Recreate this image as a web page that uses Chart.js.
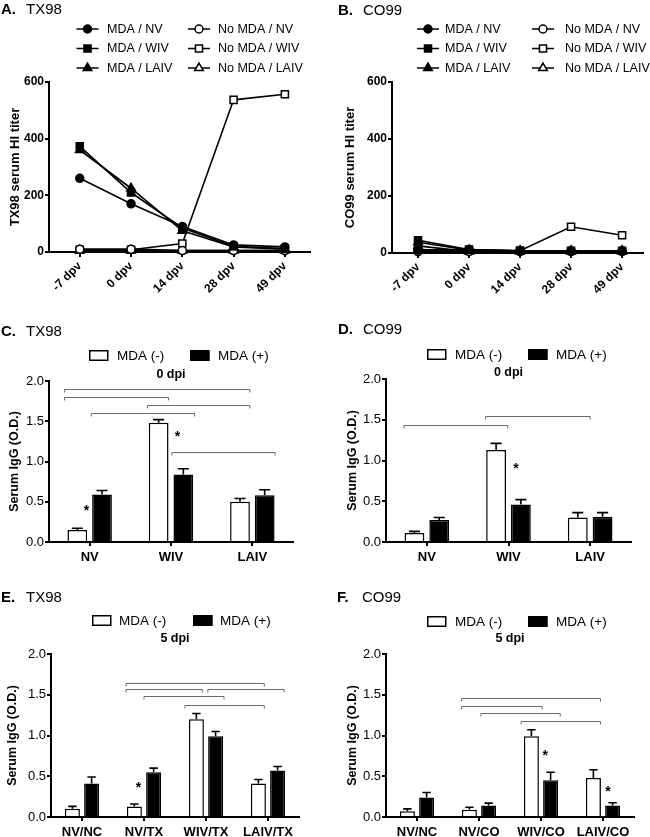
<!DOCTYPE html>
<html>
<head>
<meta charset="utf-8">
<script src="https://cdn.jsdelivr.net/npm/chart.js@4.4.1/dist/chart.umd.min.js"></script>
<style>
  body { margin: 0; background: #fff; }
  #fig { position: relative; width: 650px; height: 837px; overflow: hidden;
         font-family: "Liberation Sans", Arial, Helvetica, sans-serif; color: #000; }
  .panel { position: absolute; }
  .ttl { position: absolute; font-size: 15px; line-height: 15px; white-space: nowrap; }
  .ttl b { display: inline-block; width: 25px; }
</style>
</head>
<body>
<div id="fig">
  <canvas id="hiTx" class="panel" style="left:0;top:0" width="325" height="300"></canvas>
  <canvas id="hiCo" class="panel" style="left:325px;top:0" width="325" height="300"></canvas>
  <canvas id="igTx0" class="panel" style="left:0;top:300px" width="325" height="265"></canvas>
  <canvas id="igCo0" class="panel" style="left:325px;top:300px" width="325" height="265"></canvas>
  <canvas id="igTx5" class="panel" style="left:0;top:565px" width="325" height="272"></canvas>
  <canvas id="igCo5" class="panel" style="left:325px;top:565px" width="325" height="272"></canvas>
  <div class="ttl" style="left:1px;top:1px"><b>A.</b>TX98</div>
  <div class="ttl" style="left:338px;top:2px"><b>B.</b>CO99</div>
  <div class="ttl" style="left:1px;top:323px"><b>C.</b>TX98</div>
  <div class="ttl" style="left:338px;top:321px"><b>D.</b>CO99</div>
  <div class="ttl" style="left:1px;top:589px"><b>E.</b>TX98</div>
  <div class="ttl" style="left:337px;top:589px"><b>F.</b>CO99</div>
</div>
<script>
Chart.defaults.font.family = '"Liberation Sans", Arial, Helvetica, sans-serif';
Chart.defaults.color = '#000';
Chart.defaults.animation = false;

// ---- HI titers (panels A, B)
const dpvLabels = ['-7 dpv', '0 dpv', '14 dpv', '28 dpv', '49 dpv'];
const hiTicks = [0, 200, 400, 600];
const hiGroups = ['MDA / NV', 'MDA / WIV', 'MDA / LAIV', 'No MDA / NV', 'No MDA / WIV', 'No MDA / LAIV'];

const txMdaNV = [260, 170, 90, 25, 18];
const txMdaWIV = [373, 210, 85, 20, 12];
const txMdaLAIV = [360, 225, 75, 18, 10];
const txNoNV = [10, 10, 5, 5, 5];
const txNoWIV = [8, 8, 30, 537, 557];
const txNoLAIV = [5, 5, 5, 5, 5];

const coMdaNV = [10, 12, 8, 8, 8];
const coMdaWIV = [45, 12, 8, 8, 8];
const coMdaLAIV = [38, 10, 8, 8, 8];
const coNoNV = [5, 5, 5, 5, 5];
const coNoWIV = [12, 8, 8, 92, 62];
const coNoLAIV = [25, 5, 5, 5, 5];

// ---- serum IgG O.D. (panels C-F)
const odTicks = [0, 0.5, 1.0, 1.5, 2.0];
const vaxGroups = ['NV', 'WIV', 'LAIV'];
const txChallenge = ['NV/NC', 'NV/TX', 'WIV/TX', 'LAIV/TX'];
const coChallenge = ['NV/NC', 'NV/CO', 'WIV/CO', 'LAIV/CO'];

const txOd0Neg = [0.15, 1.48, 0.50];
const txOd0NegErr = [0.02, 0.04, 0.04];
const txOd0Pos = [0.59, 0.84, 0.58];
const txOd0PosErr = [0.05, 0.07, 0.07];

const coOd0Neg = [0.11, 1.13, 0.30];
const coOd0NegErr = [0.02, 0.08, 0.06];
const coOd0Pos = [0.27, 0.46, 0.31];
const coOd0PosErr = [0.03, 0.06, 0.05];

const txOd5Neg = [0.10, 0.13, 1.20, 0.41];
const txOd5NegErr = [0.03, 0.03, 0.07, 0.05];
const txOd5Pos = [0.41, 0.55, 0.99, 0.57];
const txOd5PosErr = [0.08, 0.05, 0.06, 0.05];

const coOd5Neg = [0.07, 0.09, 0.99, 0.48];
const coOd5NegErr = [0.03, 0.03, 0.08, 0.10];
const coOd5Pos = [0.24, 0.14, 0.45, 0.14];
const coOd5PosErr = [0.06, 0.03, 0.10, 0.035];

// significance brackets: [from group, to group, O.D. level]
const txBrackets0 = [[-0.31, 1.97, 1.90], [-0.31, 0.97, 1.80], [0.71, 1.97, 1.70], [0.02, 1.29, 1.60], [1.01, 2.28, 1.12]];
const coBrackets0 = [[-0.28, 0.99, 1.43], [0.72, 2.0, 1.55]];
const txBrackets5 = [[0.71, 2.94, 1.65], [0.71, 1.94, 1.57], [2.03, 3.26, 1.57], [1.0, 2.29, 1.48], [1.66, 2.94, 1.38]];
const coBrackets5 = [[0.72, 2.96, 1.46], [0.72, 2.02, 1.36], [1.03, 2.31, 1.27], [1.68, 2.96, 1.18]];
// asterisks: [group, O.D.]
const txStars0 = [[-0.04, 0.43], [1.08, 1.35]];
const coStars0 = [[1.09, 0.95]];
const txStars5 = [[0.91, 0.41]];
const coStars5 = [[2.07, 0.80], [3.08, 0.35]];

// draws error bars, brackets, stars, legends and the dpi label
const extrasPlugin = {
  id: 'extras',
  afterDatasetsDraw(chart, args, opts) {
    const ctx = chart.ctx;
    const xs = chart.scales.x, ys = chart.scales.y;
    ctx.save();
    chart.data.datasets.forEach((ds, di) => {
      if (!ds.errors) return;
      chart.getDatasetMeta(di).data.forEach((bar, i) => {
        const top = ys.getPixelForValue(ds.data[i] + ds.errors[i]);
        const cap = bar.width * 0.28;
        ctx.strokeStyle = '#000';
        ctx.lineWidth = 1.6;
        ctx.beginPath();
        ctx.moveTo(bar.x, bar.y);
        ctx.lineTo(bar.x, top);
        ctx.moveTo(bar.x - cap, top);
        ctx.lineTo(bar.x + cap, top);
        ctx.stroke();
      });
    });
    const x0 = xs.getPixelForValue(0);
    const step = xs.getPixelForValue(1) - x0;
    (opts.brackets || []).forEach(([a, b, lv]) => {
      const xa = x0 + a * step, xb = x0 + b * step, yy = Math.round(ys.getPixelForValue(lv)) + 0.5;
      ctx.strokeStyle = '#6a6a6a';
      ctx.lineWidth = 1;
      ctx.beginPath();
      ctx.moveTo(xa, yy + 3);
      ctx.lineTo(xa, yy);
      ctx.lineTo(xb, yy);
      ctx.lineTo(xb, yy + 3);
      ctx.stroke();
    });
    ctx.fillStyle = '#000';
    ctx.font = 'bold 14px "Liberation Sans", Arial, sans-serif';
    ctx.textAlign = 'center';
    ctx.textBaseline = 'alphabetic';
    (opts.stars || []).forEach(([g, lv]) => {
      ctx.fillText('*', x0 + g * step, ys.getPixelForValue(lv) + 8);
    });
    ctx.restore();
  },
  afterDraw(chart, args, opts) {
    const ctx = chart.ctx;
    const lg = opts.legend;
    if (!lg) return;
    ctx.save();
    ctx.textAlign = 'left';
    ctx.textBaseline = 'middle';
    if (lg.type === 'line') {
      ctx.font = '12.5px "Liberation Sans", Arial, sans-serif';
      chart.data.datasets.forEach((ds, di) => {
        const col = di < 3 ? 0 : 1, row = di % 3;
        const mx = lg.markX[col], my = lg.rows[row];
        ctx.strokeStyle = '#000';
        ctx.lineWidth = 1.5;
        ctx.beginPath();
        ctx.moveTo(mx - 11, my);
        ctx.lineTo(mx + 11, my);
        ctx.stroke();
        ctx.fillStyle = ds.pointBackgroundColor;
        Chart.helpers.drawPoint(ctx, {
          pointStyle: ds.pointStyle, radius: ds.pointRadius, rotation: 0, borderWidth: ds.pointBorderWidth
        }, mx, my);
        ctx.fillStyle = '#000';
        ctx.fillText(ds.label, lg.textX[col], my + 0.5);
      });
    } else {
      ctx.font = '13.5px "Liberation Sans", Arial, sans-serif';
      chart.data.datasets.forEach((ds, di) => {
        const bx = lg.boxX[di];
        ctx.fillStyle = ds.backgroundColor;
        ctx.fillRect(bx, lg.boxY, 19.5, 11);
        ctx.strokeStyle = '#000';
        ctx.lineWidth = 1.5;
        ctx.strokeRect(bx + 0.75, lg.boxY + 0.75, 18, 9.5);
        ctx.fillStyle = '#000';
        ctx.fillText(ds.label, bx + lg.textOffset, lg.boxY + 6);
      });
      ctx.font = 'bold 12.5px "Liberation Sans", Arial, sans-serif';
      ctx.textAlign = 'center';
      const ca = chart.chartArea;
      ctx.fillText(opts.dpi, (ca.left + ca.right) / 2, opts.dpiY);
    }
    ctx.restore();
  }
};

function fixedAxes(panel) {
  // panel: canvas box and wanted plot area, both relative to the canvas
  return {
    padding: { left: 0, top: panel.top, right: panel.width - panel.right, bottom: 0 },
    yWidth: panel.left,
    xHeight: panel.height - panel.bottom
  };
}

function axisGrid(len) {
  return { display: true, drawOnChartArea: false, drawTicks: true, tickLength: len, color: '#000', lineWidth: 2, offset: false };
}

function hiChart(id, area, xMin, xMax, series, yTitle, titlePad, legend) {
  const fx = fixedAxes(area);
  const styles = ['circle', 'rect', 'triangle'];
  const sizes = [4, 5, 5];
  new Chart(document.getElementById(id), {
    type: 'line',
    data: {
      datasets: series.map((vals, i) => ({
        label: hiGroups[i],
        data: vals.map((v, k) => ({ x: k, y: v })),
        borderColor: '#000',
        borderWidth: 1.6,
        pointStyle: styles[i % 3],
        pointRadius: sizes[i % 3],
        pointBorderWidth: 1.5,
        pointBorderColor: '#000',
        pointBackgroundColor: i < 3 ? '#000' : '#fff',
        clip: false
      }))
    },
    options: {
      responsive: false,
      devicePixelRatio: 1,
      layout: { padding: fx.padding, autoPadding: false },
      plugins: { legend: { display: false }, tooltip: { enabled: false }, extras: { legend } },
      scales: {
        x: {
          type: 'linear', min: xMin, max: xMax,
          afterBuildTicks: (s) => { s.ticks = dpvLabels.map((_, k) => ({ value: k })); },
          afterFit: (s) => { s.height = fx.xHeight; },
          grid: axisGrid(5),
          border: { color: '#000', width: 2 },
          ticks: {
            autoSkip: false, minRotation: 45, maxRotation: 45, padding: 2,
            font: { size: 12, weight: 'bold' },
            callback: (v) => dpvLabels[v]
          }
        },
        y: {
          min: 0, max: 600,
          afterBuildTicks: (s) => { s.ticks = hiTicks.map((v) => ({ value: v })); },
          afterFit: (s) => { s.width = fx.yWidth; },
          grid: axisGrid(4),
          border: { color: '#000', width: 2 },
          ticks: { padding: 1, font: { size: 12, weight: 'bold' } },
          title: { display: true, text: yTitle, font: { size: 13, weight: 'bold' }, padding: { top: titlePad, bottom: 0 } }
        }
      }
    },
    plugins: [extrasPlugin]
  });
}

function igChart(id, area, groups, neg, negErr, pos, posErr, pct, extras, titlePad) {
  const fx = fixedAxes(area);
  new Chart(document.getElementById(id), {
    type: 'bar',
    data: {
      labels: groups,
      datasets: [
        { label: 'MDA (-)', data: neg, errors: negErr, backgroundColor: '#fff', borderColor: '#000', borderWidth: 1.5,
          categoryPercentage: pct[0], barPercentage: pct[1] },
        { label: 'MDA (+)', data: pos, errors: posErr, backgroundColor: '#000', borderColor: '#000', borderWidth: 1.5,
          categoryPercentage: pct[0], barPercentage: pct[1] }
      ]
    },
    options: {
      responsive: false,
      devicePixelRatio: 1,
      layout: { padding: fx.padding, autoPadding: false },
      plugins: { legend: { display: false }, tooltip: { enabled: false }, extras: extras },
      scales: {
        x: {
          afterFit: (s) => { s.height = fx.xHeight; },
          grid: axisGrid(4),
          border: { color: '#000', width: 2 },
          ticks: { padding: 3.5, autoSkip: false, maxRotation: 0, font: { size: 13, weight: 'bold' } }
        },
        y: {
          min: 0, max: 2,
          afterBuildTicks: (s) => { s.ticks = odTicks.map((v) => ({ value: v })); },
          afterFit: (s) => { s.width = fx.yWidth; },
          grid: axisGrid(4),
          border: { color: '#000', width: 2 },
          ticks: { padding: 1, font: { size: 13 }, callback: (v) => Number(v).toFixed(1) },
          title: { display: true, text: 'Serum IgG (O.D.)', font: { size: 12.5, weight: 'bold' }, padding: { top: titlePad, bottom: 0 } }
        }
      }
    },
    plugins: [extrasPlugin]
  });
}

hiChart('hiTx', { left: 49, top: 82, right: 310, bottom: 252, width: 325, height: 300 }, -0.6, 4.49,
  [txMdaNV, txMdaWIV, txMdaLAIV, txNoNV, txNoWIV, txNoLAIV], 'TX98 serum HI titer', 8,
  { type: 'line', markX: [87.5, 199], textX: [107, 218], rows: [29, 48.5, 68] });

hiChart('hiCo', { left: 67, top: 82, right: 318, bottom: 253, width: 325, height: 300 }, -0.51, 4.41,
  [coMdaNV, coMdaWIV, coMdaLAIV, coNoNV, coNoWIV, coNoLAIV], 'CO99 serum HI titer', 18,
  { type: 'line', markX: [103, 218], textX: [120, 240], rows: [29, 48.5, 68] });

igChart('igTx0', { left: 49, top: 81, right: 293, bottom: 242, width: 325, height: 265 }, vaxGroups,
  txOd0Neg, txOd0NegErr, txOd0Pos, txOd0PosErr, [0.607, 0.8],
  { brackets: txBrackets0, stars: txStars0, dpi: '0 dpi', dpiY: 75,
    legend: { type: 'bar', boxX: [89, 190], boxY: 50, textOffset: 28 } }, 7.5);

igChart('igCo0', { left: 61, top: 79, right: 306, bottom: 242, width: 325, height: 265 }, vaxGroups,
  coOd0Neg, coOd0NegErr, coOd0Pos, coOd0PosErr, [0.607, 0.8],
  { brackets: coBrackets0, stars: coStars0, dpi: '0 dpi', dpiY: 73,
    legend: { type: 'bar', boxX: [102, 203], boxY: 49, textOffset: 28 } }, 20.5);

igChart('igTx5', { left: 51, top: 89, right: 299, bottom: 252, width: 325, height: 272 }, txChallenge,
  txOd5Neg, txOd5NegErr, txOd5Pos, txOd5PosErr, [0.62, 0.78],
  { brackets: txBrackets5, stars: txStars5, dpi: '5 dpi', dpiY: 74,
    legend: { type: 'bar', boxX: [92, 193], boxY: 50, textOffset: 27 } }, 5.5);

igChart('igCo5', { left: 61, top: 89, right: 309, bottom: 252, width: 325, height: 272 }, coChallenge,
  coOd5Neg, coOd5NegErr, coOd5Pos, coOd5PosErr, [0.62, 0.78],
  { brackets: coBrackets5, stars: coStars5, dpi: '5 dpi', dpiY: 74,
    legend: { type: 'bar', boxX: [102, 203], boxY: 51, textOffset: 28 } }, 20.5);
</script>
</body>
</html>
